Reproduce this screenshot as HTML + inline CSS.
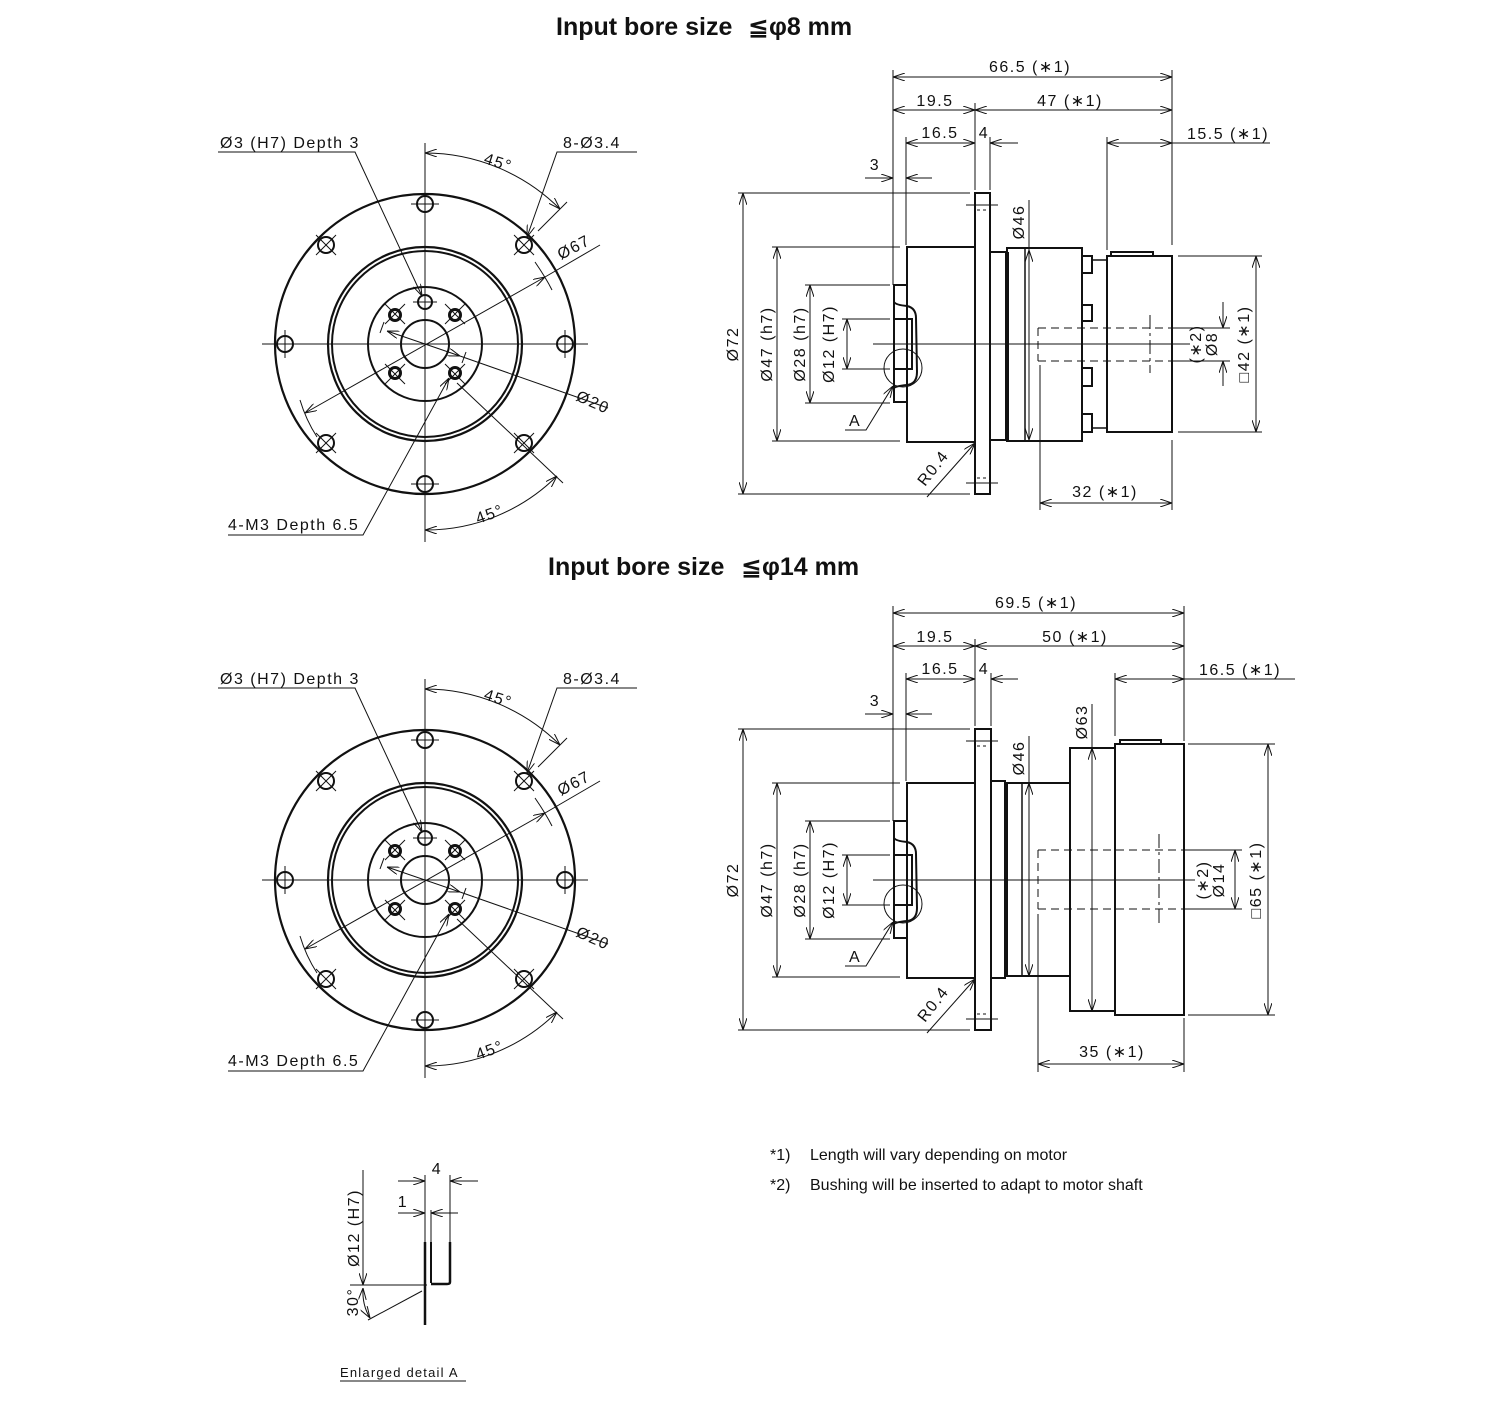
<!DOCTYPE html>
<html><head><meta charset="utf-8">
<style>
html,body{margin:0;padding:0;background:#fff;}
svg{display:block;}
text{font-family:"Liberation Sans","DejaVu Sans",sans-serif;fill:#111;}
.d{font-size:16px;letter-spacing:1.5px;}
.t{font-size:25px;font-weight:bold;}
.n{font-size:16px;}
</style></head><body>
<svg width="1500" height="1410" viewBox="0 0 1500 1410" xmlns="http://www.w3.org/2000/svg">
<defs>
<marker id="a" viewBox="0 0 12 8" refX="12" refY="4" markerWidth="12" markerHeight="8" markerUnits="userSpaceOnUse" orient="auto-start-reverse">
<path d="M0,0 L12,4 L0,8" fill="none" stroke="#111" stroke-width="1"/>
</marker>
<g id="front" fill="none" stroke="#111">
  <line x1="262" y1="344" x2="588" y2="344" stroke-width="1"/>
  <line x1="425" y1="143" x2="425" y2="542" stroke-width="1"/>
  <circle cx="425" cy="344" r="150" stroke-width="2.2"/>
  <circle cx="425" cy="344" r="97" stroke-width="2.2"/>
  <circle cx="425" cy="344" r="93" stroke-width="2"/>
  <circle cx="425" cy="344" r="57" stroke-width="2"/>
  <circle cx="425" cy="344" r="24" stroke-width="2"/>
  <g stroke-width="2">
    <circle cx="425" cy="204" r="8"/><circle cx="524" cy="245" r="8"/><circle cx="565" cy="344" r="8"/><circle cx="524" cy="443" r="8"/>
    <circle cx="425" cy="484" r="8"/><circle cx="326" cy="443" r="8"/><circle cx="285" cy="344" r="8"/><circle cx="326" cy="245" r="8"/>
    <circle cx="425" cy="302" r="7"/>
  </g>
  <g stroke-width="1">
    <line x1="411" y1="204" x2="439" y2="204"/><line x1="411" y1="484" x2="439" y2="484"/>
    <line x1="285" y1="330" x2="285" y2="358"/><line x1="565" y1="330" x2="565" y2="358"/>
    <line x1="413" y1="302" x2="437" y2="302"/>
    <line x1="514" y1="235" x2="534" y2="255"/><line x1="514" y1="255" x2="534" y2="235"/>
    <line x1="514" y1="433" x2="534" y2="453"/><line x1="514" y1="453" x2="534" y2="433"/>
    <line x1="316" y1="433" x2="336" y2="453"/><line x1="316" y1="453" x2="336" y2="433"/>
    <line x1="316" y1="235" x2="336" y2="255"/><line x1="316" y1="255" x2="336" y2="235"/>
    <line x1="385" y1="304" x2="405" y2="324"/><line x1="385" y1="324" x2="405" y2="304"/>
    <line x1="445" y1="304" x2="465" y2="324"/><line x1="445" y1="324" x2="465" y2="304"/>
    <line x1="385" y1="364" x2="405" y2="384"/><line x1="385" y1="384" x2="405" y2="364"/>
    <line x1="445" y1="364" x2="465" y2="384"/><line x1="445" y1="384" x2="465" y2="364"/>
  </g>
  <g stroke-width="3">
    <circle cx="395" cy="315" r="5.5"/><circle cx="455" cy="315" r="5.5"/><circle cx="395" cy="373" r="5.5"/><circle cx="455" cy="373" r="5.5"/>
  </g>
  <g stroke-width="1">
    <polyline points="218,152 355,152 422,296" marker-end="url(#a)"/>
    <polyline points="637,152 557,152 527,237" marker-end="url(#a)"/>
    <polyline points="228,535 363,535 449,378" marker-end="url(#a)"/>
    <path d="M425,153 A191,191 0 0 1 560,209" marker-start="url(#a)" marker-end="url(#a)"/>
    <line x1="538" y1="231" x2="567" y2="202"/>
    <path d="M425,530 A186,186 0 0 0 557,476" marker-start="url(#a)" marker-end="url(#a)"/>
    <line x1="457" y1="383" x2="563" y2="483"/>
    <line x1="305" y1="413" x2="545" y2="277" marker-start="url(#a)" marker-end="url(#a)"/>
    <line x1="545" y1="277" x2="600" y2="245"/>
    <path d="M300,400 Q306,420 317,437" /><path d="M535,262 Q546,278 552,290"/>
    <line x1="387" y1="331" x2="460" y2="356" marker-start="url(#a)" marker-end="url(#a)"/>
    <line x1="460" y1="356" x2="608" y2="408"/>
    <line x1="384" y1="322" x2="380" y2="333"/><line x1="466" y1="352" x2="462" y2="363"/>
  </g>
</g>
</defs>

<text class="t" x="556" y="35">Input bore size</text><text class="t" x="748" y="35">≦φ8 mm</text>
<text class="t" x="548" y="575">Input bore size</text><text class="t" x="741" y="575">≦φ14 mm</text>

<use href="#front"/>
<use href="#front" transform="translate(0,536)"/>
<g class="d">
<text x="220" y="148">Ø3 (H7) Depth 3</text>
<text x="563" y="148">8-Ø3.4</text>
<text x="483" y="163" transform="rotate(18 483 163)">45°</text>
<text x="561" y="260" transform="rotate(-28 561 260)">Ø67</text>
<text x="575" y="400" transform="rotate(24 575 400)">Ø20</text>
<text x="478" y="524" transform="rotate(-20 478 524)">45°</text>
<text x="228" y="530">4-M3 Depth 6.5</text>
</g>
<g class="d" transform="translate(0,536)">
<text x="220" y="148">Ø3 (H7) Depth 3</text>
<text x="563" y="148">8-Ø3.4</text>
<text x="483" y="163" transform="rotate(18 483 163)">45°</text>
<text x="561" y="260" transform="rotate(-28 561 260)">Ø67</text>
<text x="575" y="400" transform="rotate(24 575 400)">Ø20</text>
<text x="478" y="524" transform="rotate(-20 478 524)">45°</text>
<text x="228" y="530">4-M3 Depth 6.5</text>
</g>

<g fill="none" stroke="#111">
  <g stroke-width="2">
    <rect x="975" y="193" width="15" height="301"/>
    <rect x="907" y="247" width="68" height="195"/>
    <path d="M907,285 H894 V402 H907"/>
    <path d="M894,302 Q896,305 907,306 Q916,308 916,318 L917,372 Q917,384 907,385 Q896,386 894,388"/>
    <path d="M894,319 H912 V369 H894"/>
    <rect x="990" y="252" width="17" height="188"/>
    <line x1="1007" y1="252" x2="1007" y2="440" stroke-width="4"/>
    <rect x="1007" y="248" width="75" height="193"/>
    <path d="M1082,256 h10 v17 h-10 M1082,305 h10 v16 h-10 M1082,368 h10 v18 h-10 M1082,414 h10 v18 h-10"/>
    <rect x="1107" y="256" width="65" height="176"/>
    <path d="M1111,256 v-4 h42 v4"/>
  </g>
  <line x1="1025" y1="248" x2="1025" y2="441" stroke-width="1.5"/>
  <line x1="1092" y1="260" x2="1107" y2="260" stroke-width="1.5"/>
  <line x1="1092" y1="428" x2="1107" y2="428" stroke-width="1.5"/>
  <circle cx="903" cy="368" r="19" stroke-width="1"/>
  <g stroke-width="1">
    <line x1="873" y1="344" x2="1190" y2="344"/>
    <path d="M1038,328 H1172 M1038,361 H1172 M1038,328 V361" stroke-dasharray="8,5"/>
    <line x1="1150" y1="315" x2="1150" y2="373" stroke-dasharray="14,4,3,4"/>
    <path d="M966,205 h32 M966,483 h32" />
    <path d="M977,210 h11 M977,478 h11" stroke-dasharray="3,3"/>
    <line x1="893" y1="70" x2="893" y2="285"/>
    <line x1="906" y1="137" x2="906" y2="245"/>
    <line x1="975" y1="103" x2="975" y2="190"/>
    <line x1="990" y1="137" x2="990" y2="190"/>
    <line x1="1172" y1="70" x2="1172" y2="245"/>
    <line x1="1107" y1="137" x2="1107" y2="250"/>
    <line x1="1172" y1="440" x2="1172" y2="510"/>
    <line x1="1040" y1="365" x2="1040" y2="510"/>
    <line x1="738" y1="193" x2="970" y2="193"/><line x1="738" y1="494" x2="970" y2="494"/>
    <line x1="772" y1="247" x2="900" y2="247"/><line x1="772" y1="441" x2="900" y2="441"/>
    <line x1="805" y1="285" x2="890" y2="285"/><line x1="805" y1="403" x2="890" y2="403"/>
    <line x1="842" y1="319" x2="890" y2="319"/><line x1="842" y1="369" x2="890" y2="369"/>
    <line x1="1178" y1="256" x2="1262" y2="256"/><line x1="1178" y1="432" x2="1262" y2="432"/>
    <line x1="1172" y1="328" x2="1230" y2="328"/><line x1="1172" y1="361" x2="1230" y2="361"/>
    <line x1="893" y1="77" x2="1172" y2="77" marker-start="url(#a)" marker-end="url(#a)"/>
    <line x1="893" y1="110" x2="975" y2="110" marker-start="url(#a)" marker-end="url(#a)"/>
    <line x1="975" y1="110" x2="1172" y2="110" marker-start="url(#a)" marker-end="url(#a)"/>
    <line x1="906" y1="143" x2="975" y2="143" marker-start="url(#a)" marker-end="url(#a)"/>
    <line x1="1018" y1="143" x2="990" y2="143" marker-end="url(#a)"/>
    <line x1="1107" y1="143" x2="1172" y2="143" marker-start="url(#a)" marker-end="url(#a)"/>
    <line x1="1172" y1="143" x2="1270" y2="143"/>
    <line x1="865" y1="178" x2="893" y2="178" marker-end="url(#a)"/>
    <line x1="932" y1="178" x2="906" y2="178" marker-end="url(#a)"/>
    <line x1="743" y1="193" x2="743" y2="494" marker-start="url(#a)" marker-end="url(#a)"/>
    <line x1="777" y1="247" x2="777" y2="441" marker-start="url(#a)" marker-end="url(#a)"/>
    <line x1="810" y1="285" x2="810" y2="403" marker-start="url(#a)" marker-end="url(#a)"/>
    <line x1="847" y1="319" x2="847" y2="369" marker-start="url(#a)" marker-end="url(#a)"/>
    <line x1="1029" y1="200" x2="1029" y2="250"/>
    <line x1="1029" y1="250" x2="1029" y2="440" marker-start="url(#a)" marker-end="url(#a)"/>
    <line x1="1256" y1="256" x2="1256" y2="432" marker-start="url(#a)" marker-end="url(#a)"/>
    <line x1="1223" y1="302" x2="1223" y2="328" marker-end="url(#a)"/>
    <line x1="1223" y1="386" x2="1223" y2="361" marker-end="url(#a)"/>
    <line x1="1040" y1="503" x2="1172" y2="503" marker-start="url(#a)" marker-end="url(#a)"/>
    <polyline points="845,430 866,430 893,386" marker-end="url(#a)"/>
    <line x1="927" y1="497" x2="975" y2="443" marker-end="url(#a)"/>
  </g>
</g>
<g class="d">
<text x="1030" y="72" text-anchor="middle">66.5 (∗1)</text>
<text x="935" y="106" text-anchor="middle">19.5</text>
<text x="1070" y="106" text-anchor="middle">47 (∗1)</text>
<text x="940" y="138" text-anchor="middle">16.5</text>
<text x="984" y="138" text-anchor="middle">4</text>
<text x="1228" y="139" text-anchor="middle">15.5 (∗1)</text>
<text x="875" y="170" text-anchor="middle">3</text>
<text x="849" y="426">A</text>
<text transform="translate(738,344) rotate(-90)" text-anchor="middle">Ø72</text>
<text transform="translate(772,344) rotate(-90)" text-anchor="middle">Ø47 (h7)</text>
<text transform="translate(805,344) rotate(-90)" text-anchor="middle">Ø28 (h7)</text>
<text transform="translate(834,344) rotate(-90)" text-anchor="middle">Ø12 (H7)</text>
<text transform="translate(1024,222) rotate(-90)" text-anchor="middle">Ø46</text>
<text transform="translate(1201,344) rotate(-90)" text-anchor="middle">(∗2)</text>
<text transform="translate(1217,344) rotate(-90)" text-anchor="middle">Ø8</text>
<text transform="translate(1249,344) rotate(-90)" text-anchor="middle">□42 (∗1)</text>
<text transform="translate(925,487) rotate(-52)">R0.4</text>
<text x="1105" y="497" text-anchor="middle">32 (∗1)</text>
</g>

<g fill="none" stroke="#111" transform="translate(0,536)">
  <g stroke-width="2">
    <rect x="975" y="193" width="16" height="301"/>
    <rect x="907" y="247" width="68" height="195"/>
    <path d="M907,285 H894 V402 H907"/>
    <path d="M894,302 Q896,305 907,306 Q916,308 916,318 L917,372 Q917,384 907,385 Q896,386 894,388"/>
    <path d="M894,319 H912 V369 H894"/>
    <rect x="991" y="245" width="14" height="197"/>
    <line x1="1006" y1="247" x2="1006" y2="440" stroke-width="4"/>
    <path d="M1006,247 H1070 M1006,440 H1070"/>
    <rect x="1070" y="212" width="45" height="263"/>
    <rect x="1115" y="208" width="69" height="271"/>
    <path d="M1120,208 v-4 h41 v4"/>
  </g>
  <line x1="1022" y1="247" x2="1022" y2="440" stroke-width="1.5"/>
  <circle cx="903" cy="368" r="19" stroke-width="1"/>
  <g stroke-width="1">
    <line x1="873" y1="344" x2="1195" y2="344"/>
    <path d="M1038,314 H1184 M1038,373 H1184 M1038,314 V373" stroke-dasharray="8,5"/>
    <line x1="1159" y1="298" x2="1159" y2="390" stroke-dasharray="14,4,3,4"/>
    <path d="M966,205 h32 M966,483 h32" />
    <path d="M977,210 h12 M977,478 h12" stroke-dasharray="3,3"/>
    <line x1="893" y1="70" x2="893" y2="285"/>
    <line x1="906" y1="137" x2="906" y2="245"/>
    <line x1="975" y1="103" x2="975" y2="190"/>
    <line x1="991" y1="137" x2="991" y2="190"/>
    <line x1="1184" y1="70" x2="1184" y2="205"/>
    <line x1="1115" y1="137" x2="1115" y2="200"/>
    <line x1="1184" y1="482" x2="1184" y2="536"/>
    <line x1="1038" y1="378" x2="1038" y2="536"/>
    <line x1="738" y1="193" x2="970" y2="193"/><line x1="738" y1="494" x2="970" y2="494"/>
    <line x1="772" y1="247" x2="900" y2="247"/><line x1="772" y1="441" x2="900" y2="441"/>
    <line x1="805" y1="285" x2="890" y2="285"/><line x1="805" y1="403" x2="890" y2="403"/>
    <line x1="842" y1="319" x2="890" y2="319"/><line x1="842" y1="369" x2="890" y2="369"/>
    <line x1="1188" y1="208" x2="1275" y2="208"/><line x1="1188" y1="479" x2="1275" y2="479"/>
    <line x1="1184" y1="314" x2="1242" y2="314"/><line x1="1184" y1="373" x2="1242" y2="373"/>
    <line x1="893" y1="77" x2="1184" y2="77" marker-start="url(#a)" marker-end="url(#a)"/>
    <line x1="893" y1="110" x2="975" y2="110" marker-start="url(#a)" marker-end="url(#a)"/>
    <line x1="975" y1="110" x2="1184" y2="110" marker-start="url(#a)" marker-end="url(#a)"/>
    <line x1="906" y1="143" x2="975" y2="143" marker-start="url(#a)" marker-end="url(#a)"/>
    <line x1="1018" y1="143" x2="991" y2="143" marker-end="url(#a)"/>
    <line x1="1115" y1="143" x2="1184" y2="143" marker-start="url(#a)" marker-end="url(#a)"/>
    <line x1="1184" y1="143" x2="1295" y2="143"/>
    <line x1="865" y1="178" x2="893" y2="178" marker-end="url(#a)"/>
    <line x1="932" y1="178" x2="906" y2="178" marker-end="url(#a)"/>
    <line x1="743" y1="193" x2="743" y2="494" marker-start="url(#a)" marker-end="url(#a)"/>
    <line x1="777" y1="247" x2="777" y2="441" marker-start="url(#a)" marker-end="url(#a)"/>
    <line x1="810" y1="285" x2="810" y2="403" marker-start="url(#a)" marker-end="url(#a)"/>
    <line x1="847" y1="319" x2="847" y2="369" marker-start="url(#a)" marker-end="url(#a)"/>
    <line x1="1029" y1="200" x2="1029" y2="247"/>
    <line x1="1029" y1="247" x2="1029" y2="440" marker-start="url(#a)" marker-end="url(#a)"/>
    <line x1="1092" y1="168" x2="1092" y2="212"/>
    <line x1="1092" y1="212" x2="1092" y2="475" marker-start="url(#a)" marker-end="url(#a)"/>
    <line x1="1268" y1="208" x2="1268" y2="479" marker-start="url(#a)" marker-end="url(#a)"/>
    <line x1="1235" y1="314" x2="1235" y2="373" marker-start="url(#a)" marker-end="url(#a)"/>
    <line x1="1038" y1="528" x2="1184" y2="528" marker-start="url(#a)" marker-end="url(#a)"/>
    <polyline points="845,430 866,430 893,386" marker-end="url(#a)"/>
    <line x1="927" y1="497" x2="975" y2="443" marker-end="url(#a)"/>
  </g>
</g>
<g class="d" transform="translate(0,536)">
<text x="1036" y="72" text-anchor="middle">69.5 (∗1)</text>
<text x="935" y="106" text-anchor="middle">19.5</text>
<text x="1075" y="106" text-anchor="middle">50 (∗1)</text>
<text x="940" y="138" text-anchor="middle">16.5</text>
<text x="984" y="138" text-anchor="middle">4</text>
<text x="1240" y="139" text-anchor="middle">16.5 (∗1)</text>
<text x="875" y="170" text-anchor="middle">3</text>
<text x="849" y="426">A</text>
<text transform="translate(738,344) rotate(-90)" text-anchor="middle">Ø72</text>
<text transform="translate(772,344) rotate(-90)" text-anchor="middle">Ø47 (h7)</text>
<text transform="translate(805,344) rotate(-90)" text-anchor="middle">Ø28 (h7)</text>
<text transform="translate(834,344) rotate(-90)" text-anchor="middle">Ø12 (H7)</text>
<text transform="translate(1024,222) rotate(-90)" text-anchor="middle">Ø46</text>
<text transform="translate(1087,186) rotate(-90)" text-anchor="middle">Ø63</text>
<text transform="translate(1208,344) rotate(-90)" text-anchor="middle">(∗2)</text>
<text transform="translate(1224,344) rotate(-90)" text-anchor="middle">Ø14</text>
<text transform="translate(1261,344) rotate(-90)" text-anchor="middle">□65 (∗1)</text>
<text transform="translate(925,487) rotate(-52)">R0.4</text>
<text x="1112" y="521" text-anchor="middle">35 (∗1)</text>
</g>

<g fill="none" stroke="#111" stroke-width="1">
  <line x1="363" y1="1170" x2="363" y2="1285" marker-end="url(#a)"/>
  <line x1="350" y1="1285" x2="427" y2="1285"/>
  <line x1="425" y1="1175" x2="425" y2="1325" />
  <line x1="425" y1="1242" x2="425" y2="1325" stroke-width="2.5"/>
  <line x1="431" y1="1210" x2="431" y2="1283"/>
  <line x1="431" y1="1242" x2="431" y2="1283" stroke-width="2"/>
  <line x1="450" y1="1175" x2="450" y2="1242"/>
  <path d="M450,1242 V1282 Q450,1284 447,1284 H431" stroke-width="2.5"/>
  <line x1="398" y1="1181" x2="425" y2="1181" marker-end="url(#a)"/>
  <line x1="478" y1="1181" x2="450" y2="1181" marker-end="url(#a)"/>
  <line x1="398" y1="1213" x2="425" y2="1213" marker-end="url(#a)"/>
  <line x1="458" y1="1213" x2="431" y2="1213" marker-end="url(#a)"/>
  <line x1="368" y1="1320" x2="422" y2="1291"/>
  <path d="M363,1288 Q362,1305 370,1318" marker-start="url(#a)" marker-end="url(#a)"/>
  <line x1="340" y1="1381" x2="466" y2="1381"/>
</g>
<g class="d">
<text x="437" y="1174" text-anchor="middle">4</text>
<text x="403" y="1207" text-anchor="middle">1</text>
<text transform="translate(359,1228) rotate(-90)" text-anchor="middle">Ø12 (H7)</text>
<text transform="translate(358,1302) rotate(-90)" text-anchor="middle">30°</text>
<text x="340" y="1377" style="font-size:13px;letter-spacing:1.2px">Enlarged detail A</text>
</g>

<g class="n">
<text x="770" y="1160">*1)</text><text x="810" y="1160">Length will vary depending on motor</text>
<text x="770" y="1190">*2)</text><text x="810" y="1190">Bushing will be inserted to adapt to motor shaft</text>
</g>
</svg>
</body></html>
